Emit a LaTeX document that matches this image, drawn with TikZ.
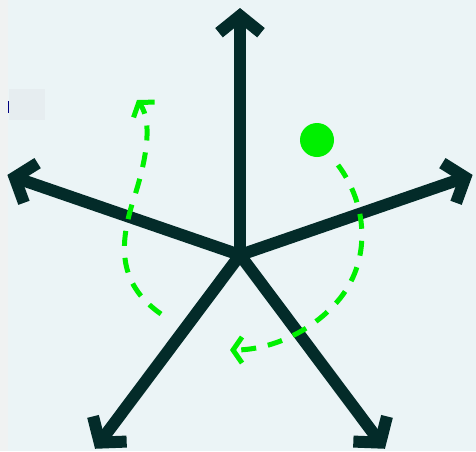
\documentclass[tikz,border=0pt]{standalone}
\usetikzlibrary{arrows.meta}
\definecolor{sfondo}{HTML}{EBF4F6}
\definecolor{bordo}{HTML}{F0F2F2}
\definecolor{riquadro}{HTML}{E6EDF0}
\definecolor{scuro}{HTML}{032B29}
\definecolor{verde}{HTML}{00F000}
\tikzset{
    braccio/.style={draw=scuro, line width=12pt, -{Straight Barb[length=17pt, width=42pt]}},
    tratteggio/.style={draw=verde, line width=5pt, dash pattern=on 15pt off 12pt, -{Straight Barb[length=9pt, width=26pt]}}
}
\begin{document}
\begin{tikzpicture}[x=1pt, y=-1pt]
        % Sfondo
        \fill [sfondo] (0,0) rectangle (476,451);
        \fill [bordo] (0,0) rectangle (8,451);
        \fill [riquadro] (9,89) rectangle (45,120);
        \fill [blue!50!black] (7.5,101) rectangle (9,113);
        \useasboundingbox (0,0) rectangle (476,451);
        % Centro
        \coordinate (centro) at (240,255);
        % Bracci
        \draw [braccio] (centro) -- ++(-90:247);
        \draw [braccio] (centro) -- ++(-161:246);
        \draw [braccio] (centro) -- ++(-19:246);
        \draw [braccio] (centro) -- ++(126.8:242);
        \draw [braccio] (centro) -- ++(53.2:242);
        % Percorsi
        \fill [verde] (317,140) circle (17);
        \draw [tratteggio] (161,314) .. controls (115,282) and (120,240) .. (135,195) .. controls (146,160) and (153,122) .. (137,100);
        \draw [tratteggio] (338,165) .. controls (368,205) and (372,262) .. (337,302) .. controls (307,336) and (265,350) .. (230,350);
    \end{tikzpicture}
\end{document}
